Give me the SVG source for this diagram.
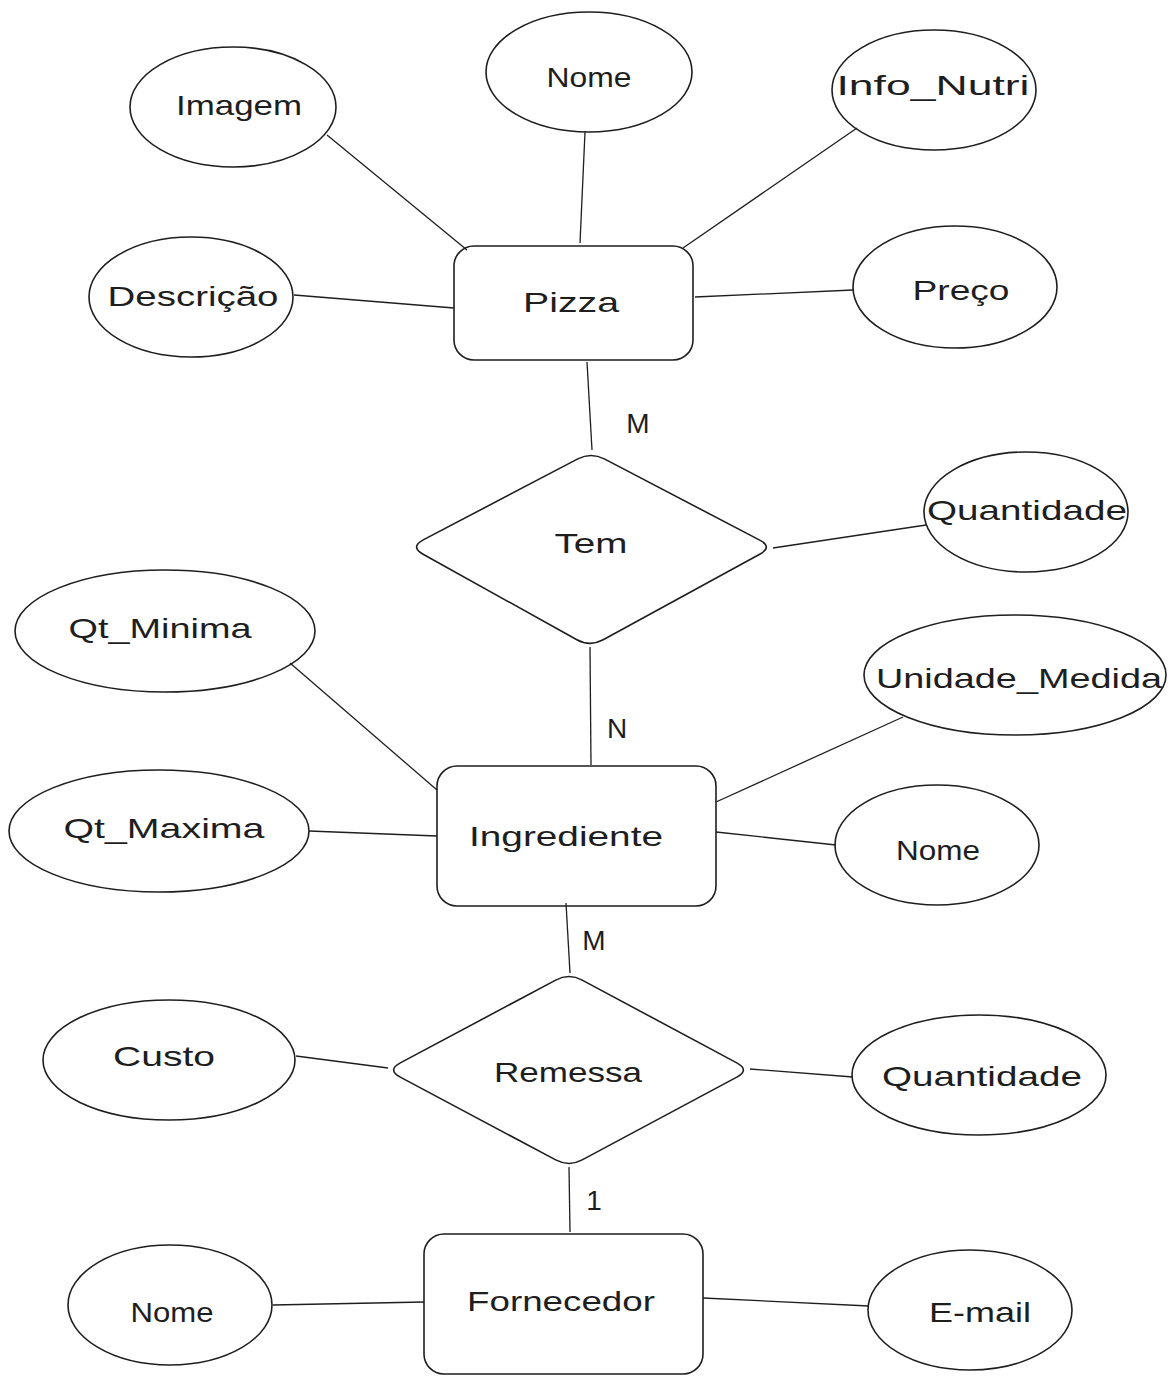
<svg xmlns="http://www.w3.org/2000/svg" width="1175" height="1384" viewBox="0 0 1175 1384">
<style>
.s{fill:none;stroke:#1e1e1e;stroke-width:1.6;stroke-linejoin:round}
.l{fill:none;stroke:#1e1e1e;stroke-width:1.3}
text{font-family:"Liberation Sans","DejaVu Sans",sans-serif;font-size:28px;fill:#1e1e1e;text-anchor:middle}
</style>
<rect width="1175" height="1384" fill="#ffffff"/>
<g id="connectors">
<line class="l" x1="327" y1="135" x2="467" y2="250"/>
<line class="l" x1="585" y1="132" x2="580" y2="243"/>
<line class="l" x1="857" y1="128" x2="683" y2="248"/>
<line class="l" x1="294" y1="295" x2="454" y2="308"/>
<line class="l" x1="695" y1="297" x2="853" y2="290"/>
<line class="l" x1="587" y1="362" x2="592" y2="450"/>
<line class="l" x1="773" y1="548" x2="926" y2="525"/>
<line class="l" x1="590" y1="647" x2="591" y2="765"/>
<line class="l" x1="290" y1="663" x2="437" y2="790"/>
<line class="l" x1="903" y1="717" x2="716" y2="802"/>
<line class="l" x1="309" y1="831" x2="437" y2="836"/>
<line class="l" x1="716" y1="832" x2="836" y2="845"/>
<line class="l" x1="566" y1="903" x2="570" y2="973"/>
<line class="l" x1="296" y1="1056" x2="388" y2="1068"/>
<line class="l" x1="750" y1="1069" x2="853" y2="1077"/>
<line class="l" x1="569" y1="1167" x2="570" y2="1232"/>
<line class="l" x1="273" y1="1305" x2="424" y2="1302"/>
<line class="l" x1="703" y1="1298" x2="869" y2="1306"/>
<text x="638" y="433">M</text>
<text x="617" y="738">N</text>
<text x="594" y="950">M</text>
<text x="594" y="1210">1</text>
</g>
<g id="pizza"><rect class="s" x="454" y="246" width="239" height="114" rx="20"/><text x="571" y="312" textLength="96" lengthAdjust="spacingAndGlyphs">Pizza</text></g>
<g id="ingrediente"><rect class="s" x="437" y="766" width="279" height="140" rx="20"/><text x="566" y="846" textLength="194" lengthAdjust="spacingAndGlyphs">Ingrediente</text></g>
<g id="fornecedor"><rect class="s" x="424" y="1234" width="279" height="140" rx="20"/><text x="561" y="1311" textLength="188" lengthAdjust="spacingAndGlyphs">Fornecedor</text></g>
<g id="tem"><path class="s" d="M604.3,458.9 L759.7,540.1 Q773,547 759.7,554.3 L603.2,639.8 Q590,647 576.9,639.7 L423.1,554.3 Q410,547 423.2,539.9 L577.8,458.9 Q591,452 604.3,458.9 Z"/><text x="591" y="553" textLength="73" lengthAdjust="spacingAndGlyphs">Tem</text></g>
<g id="remessa"><path class="s" d="M582.2,980.1 L736.8,1062.9 Q750,1070 736.8,1077.1 L582.2,1159.9 Q569,1167 555.7,1159.9 L400.3,1077.1 Q387,1070 400.3,1062.9 L555.7,980.1 Q569,973 582.2,980.1 Z"/><text x="568" y="1082" textLength="148" lengthAdjust="spacingAndGlyphs">Remessa</text></g>
<g id="imagem"><ellipse class="s" cx="233" cy="107" rx="103" ry="60"/><text x="239" y="115" textLength="126" lengthAdjust="spacingAndGlyphs">Imagem</text></g>
<g id="nome-pizza"><ellipse class="s" cx="589" cy="72" rx="103" ry="60"/><text x="589" y="87" textLength="85" lengthAdjust="spacingAndGlyphs">Nome</text></g>
<g id="info-nutri"><ellipse class="s" cx="934" cy="90" rx="102" ry="60"/><text x="933" y="95" textLength="193" lengthAdjust="spacingAndGlyphs">Info_Nutri</text></g>
<g id="descricao"><ellipse class="s" cx="191" cy="297" rx="102" ry="60"/><text x="193" y="306" textLength="171" lengthAdjust="spacingAndGlyphs">Descrição</text></g>
<g id="preco"><ellipse class="s" cx="955" cy="287" rx="102" ry="61"/><text x="961" y="300" textLength="97" lengthAdjust="spacingAndGlyphs">Preço</text></g>
<g id="quantidade-tem"><ellipse class="s" cx="1026" cy="512" rx="102" ry="60"/><text x="1027" y="520" textLength="200" lengthAdjust="spacingAndGlyphs">Quantidade</text></g>
<g id="qt-minima"><ellipse class="s" cx="165" cy="631" rx="150" ry="61"/><text x="160" y="638" textLength="183" lengthAdjust="spacingAndGlyphs">Qt_Minima</text></g>
<g id="unidade-medida"><ellipse class="s" cx="1015" cy="675" rx="151" ry="60"/><text x="1019" y="688" textLength="286" lengthAdjust="spacingAndGlyphs">Unidade_Medida</text></g>
<g id="qt-maxima"><ellipse class="s" cx="159" cy="831" rx="150" ry="61"/><text x="164" y="838" textLength="201" lengthAdjust="spacingAndGlyphs">Qt_Maxima</text></g>
<g id="nome-ingrediente"><ellipse class="s" cx="937" cy="845" rx="102" ry="60"/><text x="938" y="860" textLength="84" lengthAdjust="spacingAndGlyphs">Nome</text></g>
<g id="custo"><ellipse class="s" cx="169" cy="1060" rx="126" ry="60"/><text x="164" y="1066" textLength="102" lengthAdjust="spacingAndGlyphs">Custo</text></g>
<g id="quantidade-remessa"><ellipse class="s" cx="979" cy="1075" rx="127" ry="60"/><text x="982" y="1086" textLength="200" lengthAdjust="spacingAndGlyphs">Quantidade</text></g>
<g id="nome-fornecedor"><ellipse class="s" cx="170" cy="1305" rx="102" ry="60"/><text x="172" y="1322" textLength="83" lengthAdjust="spacingAndGlyphs">Nome</text></g>
<g id="email"><ellipse class="s" cx="970" cy="1310" rx="102" ry="60"/><text x="980" y="1322" textLength="102" lengthAdjust="spacingAndGlyphs">E-mail</text></g>
</svg>
